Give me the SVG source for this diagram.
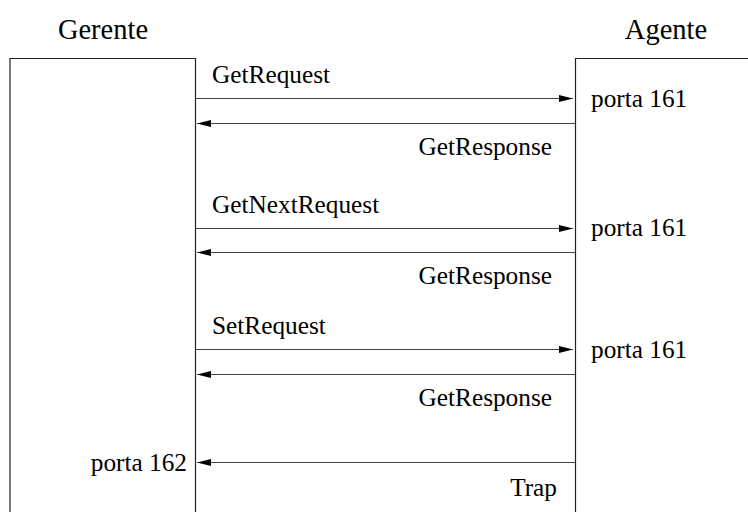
<svg xmlns="http://www.w3.org/2000/svg" width="748" height="512" viewBox="0 0 748 512">
<style>
text{font-family:"Liberation Serif","Times New Roman",serif;fill:#000}
.t{font-size:28.5px}
.l{font-size:25.3px}
.box{fill:#fff;stroke:#222;stroke-width:1.2}
.c{stroke:#444;stroke-width:1.2;fill:none}
</style>
<defs>
<marker id="ah" markerWidth="14" markerHeight="8" refX="14" refY="4" orient="auto" markerUnits="userSpaceOnUse">
<path d="M0,0.5 L14,4 L0,7.5 Z" fill="#000"/>
</marker>
</defs>
<rect width="748" height="512" fill="#fff"/>
<g id="gerente">
<text class="t" x="103" y="39" text-anchor="middle">Gerente</text>
<path class="box" d="M10,514 V58.5 H195.5 V514"/>
<text class="l" x="187" y="471" text-anchor="end">porta 162</text>
</g>
<g id="agente">
<text class="t" x="666" y="39" text-anchor="middle">Agente</text>
<path class="box" d="M575.5,514 V58.5 H750"/>
<text class="l" x="591" y="107">porta 161</text>
<text class="l" x="591" y="236">porta 161</text>
<text class="l" x="591" y="358">porta 161</text>
</g>
<g id="connectors">
<line class="c" x1="196" y1="98.5" x2="573" y2="98.5" marker-end="url(#ah)"/>
<line class="c" x1="575" y1="123.5" x2="197" y2="123.5" marker-end="url(#ah)"/>
<line class="c" x1="196" y1="228.5" x2="573" y2="228.5" marker-end="url(#ah)"/>
<line class="c" x1="575" y1="252.5" x2="197" y2="252.5" marker-end="url(#ah)"/>
<line class="c" x1="196" y1="349.5" x2="573" y2="349.5" marker-end="url(#ah)"/>
<line class="c" x1="575" y1="374.5" x2="197" y2="374.5" marker-end="url(#ah)"/>
<line class="c" x1="575" y1="462.5" x2="197" y2="462.5" marker-end="url(#ah)"/>
<text class="l" x="212" y="83">GetRequest</text>
<text class="l" x="552" y="155" text-anchor="end">GetResponse</text>
<text class="l" x="212" y="213">GetNextRequest</text>
<text class="l" x="552" y="284" text-anchor="end">GetResponse</text>
<text class="l" x="212" y="334">SetRequest</text>
<text class="l" x="552" y="406" text-anchor="end">GetResponse</text>
<text class="l" x="557" y="496" text-anchor="end">Trap</text>
</g>
</svg>
